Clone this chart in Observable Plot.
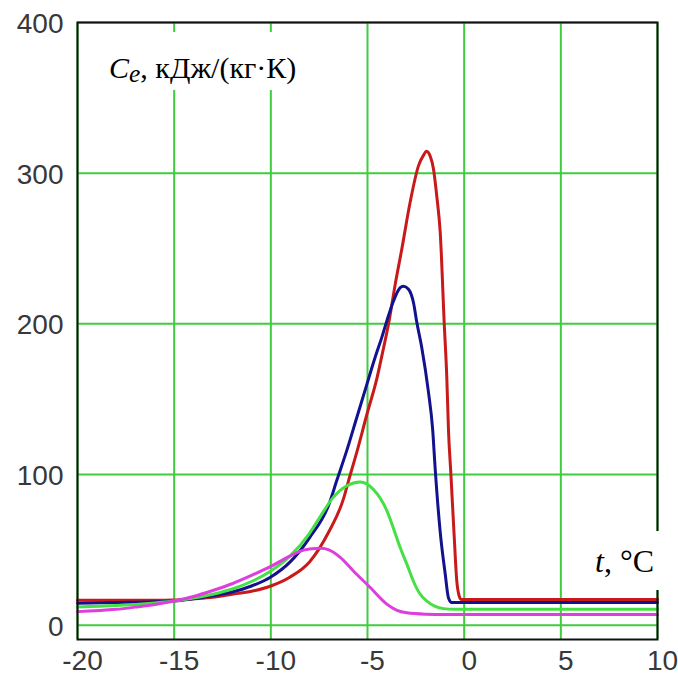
<!DOCTYPE html>
<html>
<head>
<meta charset="utf-8">
<script src="https://cdn.jsdelivr.net/npm/d3@7"></script>
<script src="https://cdn.jsdelivr.net/npm/@observablehq/plot@0.6"></script>
<style>
  html, body { margin: 0; padding: 0; background: #fff; }
  #wrap { position: relative; width: 678px; height: 677px; overflow: hidden; }
  .lab { position: absolute; background: #fff; font-family: "Liberation Serif", "Times New Roman", serif; color: #000; white-space: nowrap; box-sizing: border-box; }
  #ylab { left: 93px; top: 32px; width: 222px; height: 58px; padding-left: 16px; padding-top: 21px; font-size: 30px; line-height: 30px; }
  #xlab { left: 585px; top: 531px; width: 85px; height: 59px; padding-left: 10px; padding-top: 14px; font-size: 32px; line-height: 32px; }
  .sub { font-size: 0.85em; position: relative; top: 4px; font-style: italic; }
</style>
</head>
<body>
<div id="wrap">
  <div id="chart"></div>
  <div class="lab" id="ylab"><i>C</i><span class="sub">e</span>, кДж/(кг·К)</div>
  <div class="lab" id="xlab"><i>t</i>, °C</div>
</div>
<script>
// Tick values
const xTicks = [-20, -15, -10, -5, 0, 5, 10];
const yTicks = [0, 100, 200, 300, 400];

// Red series
const tRed = [-20, -18, -16, -15, -14, -13, -12, -11, -10, -9, -8, -7, -6.24, -6, -5.55, -5.03, -4.51, -4.17, -3.91, -3.57, -3.22, -2.79, -2.36, -2.1, -1.95, -1.75, -1.59, -1.41, -1.24, -1.03, -0.9, -0.81, -0.69, -0.52, -0.38, -0.25, -0.15, 0, 5, 10];
const cRed = [16.5, 16.5, 16.5, 16.7, 17.5, 18.5, 20.5, 22.5, 26, 32, 42, 62, 84, 95, 115, 140, 164, 184, 200, 226, 250, 281, 305, 312, 314.5, 311, 303, 284, 261, 200, 165, 129, 101, 60, 29, 19, 17, 17, 17, 17];

// Blue series
const tBlue = [-20, -18, -16, -15, -14, -13, -12, -11, -10, -9, -8, -7, -6.59, -6.07, -5.55, -5.03, -4.6, -4.26, -4.0, -3.66, -3.31, -3.14, -2.88, -2.62, -2.45, -2.19, -1.85, -1.63, -1.5, -1.24, -0.98, -0.81, -0.64, -0.5, 0, 5, 10];
const cBlue = [14.5, 15, 15.5, 16, 17.5, 19.5, 22, 26, 32, 42, 58, 80, 96, 116, 138, 160, 178, 191, 202, 215, 224, 225, 223, 214, 201, 184, 155, 130, 104, 62, 34, 18, 15, 15, 15, 15, 15];

// Green series
const tGreen = [-20, -18, -16, -15, -14, -13, -12, -11, -10, -9, -8, -7.45, -6.76, -6.07, -5.38, -4.69, -4.0, -3.65, -3.31, -2.95, -2.62, -2.3, -1.93, -1.5, -1.07, -0.5, 0, 5, 10];
const cGreen = [12, 13, 14.8, 16, 18, 20.5, 24, 29, 36, 46, 61, 72, 85, 92.5, 95, 90, 76, 64, 51.5, 40, 29, 21, 16, 12.5, 11, 10.5, 10.5, 10.5, 10.5];

// Magenta series
const tMag = [-20, -18, -17, -16, -15, -14, -13, -12, -11, -10, -9, -8.5, -8, -7.4, -7, -6.41, -5.73, -4.86, -4.0, -3.5, -2.97, -2, -1, 0, 5, 10];
const cMag = [9, 10.5, 12, 13.7, 16, 19, 23, 27.5, 33, 39, 46, 49, 50.5, 51, 50, 45, 36, 25, 14, 10, 8.2, 7.3, 7.1, 7.1, 7.1, 7.1];

const toRows = (ts, cs) => ts.map((t, i) => ({t, c: cs[i]}));
const series = [
  {rows: toRows(tRed, cRed), color: "#c81a1a"},
  {rows: toRows(tBlue, cBlue), color: "#12128e"},
  {rows: toRows(tGreen, cGreen), color: "#45e045"},
  {rows: toRows(tMag, cMag), color: "#de3ede"}
];

const chart = Plot.plot({
  width: 678,
  height: 677,
  marginLeft: 77,
  marginRight: 21,
  marginTop: 22,
  marginBottom: 38,
  style: {background: "#fff", fontFamily: "'Liberation Sans', Arial, sans-serif", fontSize: "28px", overflow: "visible"},
  x: {domain: [-20, 10]},
  y: {domain: [-9.5, 400]},
  marks: [
    Plot.gridX(xTicks, {stroke: "#3fcc3f", strokeOpacity: 1, strokeWidth: 2}),
    Plot.gridY(yTicks, {stroke: "#3fcc3f", strokeOpacity: 1, strokeWidth: 2}),
    ...series.map(s => Plot.line(s.rows, {x: "t", y: "c", stroke: s.color, strokeWidth: 3, curve: "monotone-x"})),
    Plot.frame({stroke: "#111", strokeWidth: 2}),
    Plot.axisY(yTicks, {tickSize: 0, tickPadding: 14, fill: "#383838", fontSize: 28, dy: 1.5, label: null}),
    Plot.axisX(xTicks, {tickSize: 0, tickPadding: 11, fill: "#383838", fontSize: 28, dx: 5, label: null, tickFormat: d => String(d)})
  ]
});
document.getElementById("chart").appendChild(chart);
</script>
</body>
</html>
